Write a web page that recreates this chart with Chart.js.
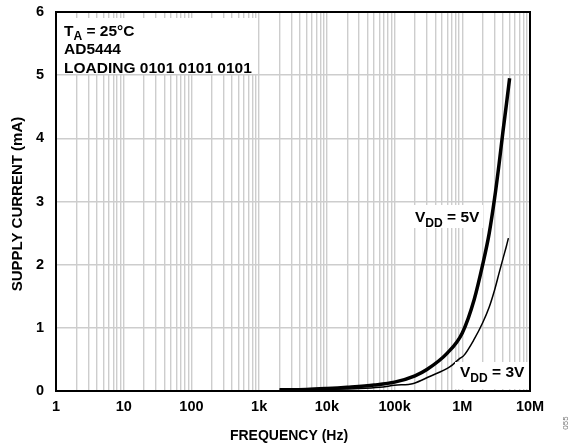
<!DOCTYPE html>
<html>
<head>
<meta charset="utf-8">
<script src="https://cdn.jsdelivr.net/npm/chart.js@4/dist/chart.umd.min.js"></script>
<style>
  html, body { margin: 0; padding: 0; background: #fff; }
  canvas { display: block; }
</style>
</head>
<body>
<canvas id="chart" width="573" height="446"></canvas>
<script>
// x axis decades (Hz) and their labels
var decades = [1, 10, 100, 1e3, 1e4, 1e5, 1e6, 1e7];
var decadeLabels = ['1', '10', '100', '1k', '10k', '100k', '1M', '10M'];
var currentTicks = [0, 1, 2, 3, 4, 5, 6];

// VDD = 5V
var freq5V = [2e3, 5e3, 1e4, 2e4, 5e4, 1e5, 2e5, 3e5, 6e5, 1e6, 1.5e6, 2e6, 2.5e6, 3e6, 3.5e6, 4e6, 4.5e6, 5e6];
var current5V = [0.02, 0.025, 0.04, 0.06, 0.095, 0.14, 0.24, 0.34, 0.60, 0.92, 1.45, 2.0, 2.5, 3.05, 3.6, 4.12, 4.55, 4.95];

// VDD = 3V
var freq3V = [2e3, 1e4, 3e4, 6e4, 1e5, 1.9e5, 3.3e5, 6.6e5, 9.3e5, 1.05e6, 1.5e6, 2e6, 2.5e6, 3e6, 3.5e6, 4e6, 4.5e6, 4.8e6];
var current3V = [0.01, 0.025, 0.04, 0.06, 0.09, 0.12, 0.23, 0.385, 0.52, 0.56, 0.82, 1.08, 1.33, 1.6, 1.87, 2.1, 2.3, 2.42];

var FONT = '"Liberation Sans", Arial, Helvetica, sans-serif';

function toPoints(xs, ys) {
  var pts = [];
  for (var i = 0; i < xs.length; i++) pts.push({x: xs[i], y: ys[i]});
  return pts;
}

// text with a subscript part, e.g. V + DD
function drawSubText(ctx, x, y, parts, size) {
  for (var i = 0; i < parts.length; i++) {
    var sub = parts[i][1];
    ctx.font = 'bold ' + (sub ? size * 0.78 : size) + 'px ' + FONT;
    ctx.fillText(parts[i][0], x, sub ? y + size * 0.3 : y);
    x += ctx.measureText(parts[i][0]).width;
  }
}

var labelsPlugin = {
  id: 'labels',
  afterDatasetsDraw: function(chart) {
    var ctx = chart.ctx;
    ctx.save();
    ctx.textBaseline = 'alphabetic';
    ctx.textAlign = 'left';

    // white boxes behind the notes
    ctx.fillStyle = '#fff';
    ctx.fillRect(57, 18, 201, 56);
    ctx.fillRect(412, 205, 71, 23);
    ctx.fillRect(455, 362, 73, 27);

    ctx.fillStyle = '#000';
    drawSubText(ctx, 64, 35.5, [['T', false], ['A', true], [' = 25°C', false]], 15.5);
    ctx.font = 'bold 15.5px ' + FONT;
    ctx.fillText('AD5444', 64, 54);
    ctx.fillText('LOADING 0101 0101 0101', 64, 72.5);

    drawSubText(ctx, 415, 222, [['V', false], ['DD', true], [' = 5V', false]], 15.5);
    drawSubText(ctx, 460, 377, [['V', false], ['DD', true], [' = 3V', false]], 15.5);

    // axis titles
    ctx.font = 'bold 14px ' + FONT;
    ctx.textAlign = 'center';
    ctx.textBaseline = 'middle';
    ctx.fillText('FREQUENCY (Hz)', 289, 436);
    ctx.save();
    ctx.translate(18, 204);
    ctx.rotate(-Math.PI / 2);
    ctx.font = 'bold 15px ' + FONT;
    ctx.fillText('SUPPLY CURRENT (mA)', 0, 0);
    ctx.restore();

    // figure number
    ctx.save();
    ctx.translate(566, 423);
    ctx.rotate(-Math.PI / 2);
    ctx.font = '8px ' + FONT;
    ctx.fillStyle = '#777';
    ctx.fillText('055', 0, 0);
    ctx.restore();
    ctx.restore();
  },
  afterDraw: function(chart) {
    var a = chart.chartArea;
    var ctx = chart.ctx;
    ctx.save();
    ctx.strokeStyle = '#000';
    ctx.lineWidth = 2;
    ctx.strokeRect(a.left, a.top, a.right - a.left, a.bottom - a.top);
    ctx.restore();
  }
};

new Chart(document.getElementById('chart'), {
  type: 'scatter',
  data: {
    datasets: [
      {
        label: 'VDD = 5V',
        data: toPoints(freq5V, current5V),
        showLine: true,
        borderColor: '#000',
        borderWidth: 3.5,
        pointRadius: 0,
        cubicInterpolationMode: 'monotone'
      },
      {
        label: 'VDD = 3V',
        data: toPoints(freq3V, current3V),
        showLine: true,
        borderColor: '#000',
        borderWidth: 1.5,
        pointRadius: 0,
        cubicInterpolationMode: 'monotone'
      }
    ]
  },
  options: {
    responsive: false,
    animation: false,
    layout: { padding: { left: 0, right: 43, top: 12, bottom: 0 } },
    plugins: { legend: { display: false }, tooltip: { enabled: false } },
    scales: {
      x: {
        type: 'logarithmic',
        min: 1,
        max: 1e7,
        afterBuildTicks: function(scale) {
          var ticks = [];
          for (var d = 0; d < decades.length; d++) {
            for (var m = 1; m <= 9; m++) {
              var v = decades[d] * m;
              if (v <= decades[decades.length - 1]) ticks.push({value: v});
            }
          }
          scale.ticks = ticks;
        },
        afterFit: function(scale) {
          scale.height = 55;
          scale.paddingLeft = 0;
          scale.paddingRight = 0;
        },
        grid: { color: '#cdcdcd', lineWidth: 1.4, drawTicks: false },
        border: { color: '#000', width: 2 },
        ticks: {
          autoSkip: false,
          maxRotation: 0,
          minRotation: 0,
          padding: 7,
          color: '#000',
          font: { family: FONT, size: 14.5, weight: 'bold' },
          callback: function(value) {
            var i = decades.indexOf(value);
            return i >= 0 ? decadeLabels[i] : '';
          }
        }
      },
      y: {
        min: currentTicks[0],
        max: currentTicks[currentTicks.length - 1],
        afterFit: function(scale) {
          scale.width = 56;
          scale.paddingTop = 0;
          scale.paddingBottom = 0;
        },
        grid: { color: '#cdcdcd', lineWidth: 1.4, drawTicks: false },
        border: { color: '#000', width: 2 },
        ticks: {
          stepSize: 1,
          padding: 12,
          color: '#000',
          font: { family: FONT, size: 14.5, weight: 'bold' }
        }
      }
    }
  },
  plugins: [labelsPlugin]
});
</script>
</body>
</html>
